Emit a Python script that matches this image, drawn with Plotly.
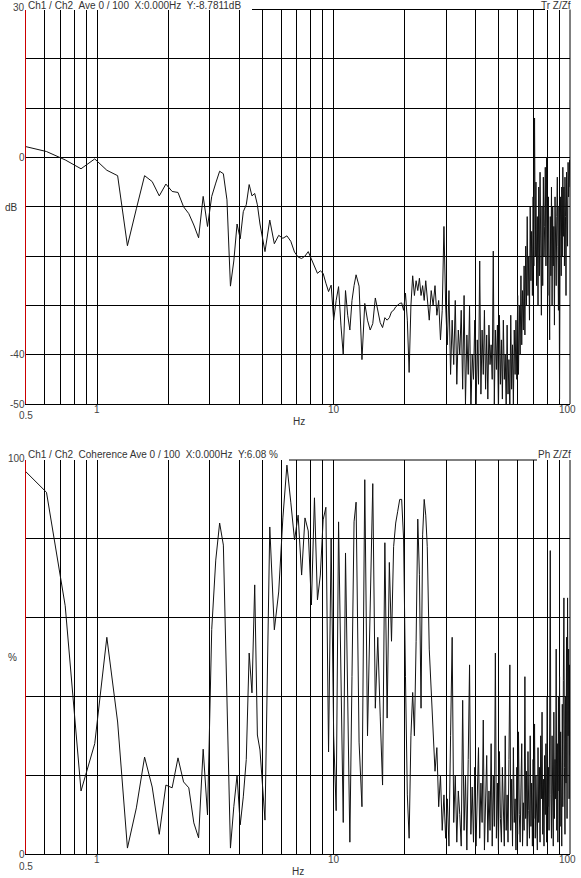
import math
import plotly.graph_objects as go

# ---------------- data ----------------
DF = 250.0 / 2048.0  # FFT bin width in Hz
BINS_A = list(range(4, 41))
BINS_B = list(range(42, 101, 2))
BINS_C = list(range(102, 202, 3))
BINS_D = list(range(204, 821, 4))
BINS = BINS_A + BINS_B + BINS_C + BINS_D
FREQ = [DF * k for k in BINS]

TR_DB_A = [2.3, 1.2, -0.5, -2.3, -0.3, -2.6, -3.7, -17.9, -10.4, -3.7,
           -4.9, -7.8, -5.4, -6.9, -7.1, -10.0, -11.4, -13.7, -16.3, -7.9,
           -14.0, -7.9, -5.2, -2.8, -3.3, -8.6, -26.1, -21.0, -13.5, -16.5,
           -11.0, -9.6, -5.5, -7.8, -7.3, -9.6, -13.5]
TR_DB_B = [-19.1, -12.7, -17.5, -15.8, -16.4, -15.9, -17.0, -19.2, -20.2, -20.5,
           -20.0, -19.1, -20.5, -22.0, -23.5, -23.0, -23.5, -25.5, -27.2, -25.9,
           -33.0, -29.0, -26.2, -34.0, -40.0, -27.0, -32.0, -35.0, -29.0, -26.0]
TR_DB_C = [-23.8, -26.1, -41.0, -29.6, -33.0, -35.0, -33.7, -28.5, -31.0, -33.5,
           -34.5, -32.5, -33.0, -32.5, -31.3, -31.0, -30.3, -30.0, -29.6, -29.5,
           -31.0, -27.5, -33.0, -43.6, -30.0, -24.0, -28.0, -25.0, -27.0, -24.5,
           -28.0, -26.0, -29.0, -25.0]
TR_DB_D = [-28, -33, -27, -30, -26, -32, -29, -37, -31, -14,
           -30, -38, -27, -44, -33, -42, -29, -46, -35, -40,
           -31, -47, -28, -50, -36, -44, -30, -52, -40, -45,
           -33, -52, -37, -46, -21, -48, -35, -44, -31, -47,
           -36, -49, -34, -42, -38, -45, -19, -50, -35, -43,
           -34, -52, -32, -46, -37, -49, -33, -45, -40, -51,
           -34, -48, -41, -52, -32, -47, -38, -50, -35, -44,
           -33, -45, -28, -44, -30, -40, -24, -38, -27, -35,
           -22, -36, -18, -30, -12, -28, -20, -33, -10, -25,
           -15, -28, -8, -22, 8, -20, -5, -26, -12, -30,
           -6, -24, -3, -18, -32, -10, -26, -4, -20, -14,
           -2, -22, 0, -16, -28, -8, -20, -37, -12, -24,
           -6, -30, -10, -22, -14, -34, -8, -20, -26, -12,
           -4, -18, -31, -10, -49, -16, -8, -24, -6, -20,
           -2, -16, -6, -22, -4, -12, -28, -3, -10, -18,
           -1, -8, -4, -0.5, -6]
TR_DB = TR_DB_A + TR_DB_B + TR_DB_C + TR_DB_D

COH_A = [97.6, 91.8, 63, 16, 28, 55, 33.5, 1.5, 11.7, 24.6,
         17, 5, 17.5, 16.8, 24.4, 18.3, 16.8, 7.9, 4.1, 26.6,
         9.9, 57, 74.6, 84, 78.4, 40, 1.5, 12, 20, 7.4,
         14.5, 24, 51, 40.9, 68.3, 30.2, 26.4]
COH_B = [8.6, 83, 56.9, 66.5, 85.3, 98.7, 89.3, 79.7, 86, 70.8,
         85.3, 82, 63.2, 90.4, 64.5, 70.8, 84.8, 88, 25.9, 80,
         30, 11, 84.3, 40, 8, 76.4, 40, 3, 45, 84.3]
COH_C = [89.3, 28.4, 12, 95, 30, 60, 94, 37, 55, 35,
         17.5, 79, 34.5, 74, 54, 78, 84, 87, 90, 90,
         80, 45, 15, 4, 30, 41, 30, 54, 85, 71,
         37, 81, 90, 86]
COH_D = [78, 52, 42, 30, 21, 27, 12, 20, 6, 15,
         4, 14, 2, 30, 55, 8, 20, 3, 16, 10,
         2, 39, 6, 20, 1, 24, 48, 5, 17, 3,
         22, 2, 14, 27, 4, 18, 8, 34, 1, 12,
         25, 3, 16, 6, 28, 2, 20, 7, 51, 4,
         18, 1, 26, 9, 3, 22, 12, 2, 30, 6,
         15, 3, 24, 48, 6, 19, 2, 27, 8, 14,
         1, 22, 5, 31, 10, 3, 17, 28, 2, 13,
         6, 45, 9, 21, 2, 26, 11, 4, 30, 7,
         18, 2, 24, 9, 33, 4, 20, 12, 1, 27,
         8, 22, 3, 30, 14, 36, 5, 19, 2, 25,
         10, 28, 3, 40, 12, 22, 6, 33, 77, 15,
         4, 30, 18, 2, 36, 9, 24, 14, 52, 6,
         28, 3, 40, 16, 45, 7, 31, 20, 2, 38,
         12, 44, 65, 22, 5, 40, 18, 55, 9, 65,
         30, 52, 14, 48, 25]
COH_PCT = COH_A + COH_B + COH_C + COH_D

X_GRID = [0.6, 0.7, 0.8, 0.9, 1, 2, 3, 4, 5, 6, 7, 8, 9,
          10, 20, 30, 40, 50, 60, 70, 80, 90, 100]
X_LABELS = [1, 10, 100]
TR_GRID = [-50, -40, -30, -20, -10, 0, 10, 20]
TR_LABELS = [30, 0, -40, -50]
COH_GRID = [0, 20, 40, 60, 80]
COH_LABELS = [100, 0]

HEAD_TOP = "Ch1 / Ch2\u00a0\u00a0Ave 0 / 100\u00a0\u00a0X:0.000Hz\u00a0\u00a0Y:-8.7811dB"
HEAD_BOT = "Ch1 / Ch2\u00a0\u00a0Coherence Ave 0 / 100\u00a0\u00a0X:0.000Hz\u00a0\u00a0Y:6.08 %"

# ---------------- figure ----------------
W, H = 581, 878
FONT = "Liberation Sans, Arial, sans-serif"
TXT = "#333333"
TICK = "#444444"


def px(x):
    return x / W


def py(y):
    return 1 - y / H


X0, X1 = 26, 570
TOP = (9.5, 404)
BOT = (460, 854)

fig = go.Figure()
fig.add_trace(go.Scatter(x=FREQ, y=TR_DB, mode="lines",
                         line=dict(color="#111111", width=1),
                         xaxis="x", yaxis="y", showlegend=False, hoverinfo="skip"))
fig.add_trace(go.Scatter(x=FREQ, y=COH_PCT, mode="lines",
                         line=dict(color="#111111", width=1),
                         xaxis="x2", yaxis="y2", showlegend=False, hoverinfo="skip"))

common_x = dict(type="log", range=[math.log10(0.5), 2], domain=[px(X0), px(X1)],
                tickmode="array", tickvals=X_GRID, showticklabels=False,
                showgrid=True, gridcolor="black", gridwidth=1,
                showline=True, linecolor="black", linewidth=1,
                ticks="", zeroline=False, automargin=False)
common_y = dict(showgrid=True, gridcolor="black", gridwidth=1,
                showline=True, linecolor="#cc0000", linewidth=1,
                ticks="", zeroline=False, tickmode="array", showticklabels=False,
                automargin=False)

fig.update_layout(
    width=W, height=H, margin=dict(l=0, r=0, t=0, b=0),
    paper_bgcolor="white", plot_bgcolor="white",
    xaxis=dict(common_x, anchor="y"),
    yaxis=dict(common_y, anchor="x", range=[-50, 30],
               domain=[py(TOP[1]), py(TOP[0])], tickvals=TR_GRID),
    xaxis2=dict(common_x, anchor="y2"),
    yaxis2=dict(common_y, anchor="x2", range=[0, 100],
                domain=[py(BOT[1]), py(BOT[0])], tickvals=COH_GRID),
)

shapes = []
for (ytop, ybot) in (TOP, BOT):
    shapes.append(dict(type="line", xref="paper", yref="paper",
                       x0=px(X1), x1=px(X1), y0=py(ybot), y1=py(ytop),
                       line=dict(color="black", width=1)))
shapes.append(dict(type="line", xref="paper", yref="paper",
                   x0=px(252), x1=px(545), y0=py(TOP[0]), y1=py(TOP[0]),
                   line=dict(color="black", width=1)))
shapes.append(dict(type="line", xref="paper", yref="paper",
                   x0=px(289), x1=px(537), y0=py(BOT[0]), y1=py(BOT[0]),
                   line=dict(color="black", width=1)))
fig.update_layout(shapes=shapes)


def ann(text, x, y, xanchor="center", yanchor="middle", color=TXT, size=10):
    return dict(text=text, x=px(x), y=py(y), xref="paper", yref="paper",
                xanchor=xanchor, yanchor=yanchor, showarrow=False, borderpad=0,
                font=dict(family=FONT, size=size, color=color))


def val_y(v, lo, hi, top_px, bot_px):
    return bot_px - (v - lo) / (hi - lo) * (bot_px - top_px)


def val_x(f):
    return X0 + (math.log10(f) - math.log10(0.5)) / (2 - math.log10(0.5)) * (X1 - X0)


annotations = [
    ann(HEAD_TOP, 26.5, 5.5, xanchor="left"),
    ann("Tr Z/Zf", 571.5, 5.5, xanchor="right"),
    ann("dB", 11, 207),
    ann("0.5", 26, 415, color=TICK),
    ann("Hz", 299, 421.5),
    ann(HEAD_BOT, 26.5, 454.5, xanchor="left"),
    ann("Ph Z/Zf", 571.5, 454, xanchor="right"),
    ann("%", 12, 657),
    ann("0.5", 26, 866, color=TICK),
    ann("Hz", 298, 871),
]
# y tick labels
for v in TR_LABELS:
    yy = val_y(v, -50, 30, TOP[0], TOP[1])
    if v == 30:
        yy = 8
    annotations.append(ann(str(v), 25.5, yy, xanchor="right", color=TICK))
for v in COH_LABELS:
    yy = val_y(v, 0, 100, BOT[0], BOT[1])
    if v == 100:
        yy = 458.5
    annotations.append(ann(str(v), 25.5, yy, xanchor="right", color=TICK))
# x tick labels
for ybase in (409.5, 859.5):
    for v in X_LABELS:
        xx = val_x(v)
        if v == 100:
            xx -= 2.5
        annotations.append(ann(str(v), xx, ybase, color=TICK))

fig.update_layout(annotations=annotations)

fig.write_html("out.html")
